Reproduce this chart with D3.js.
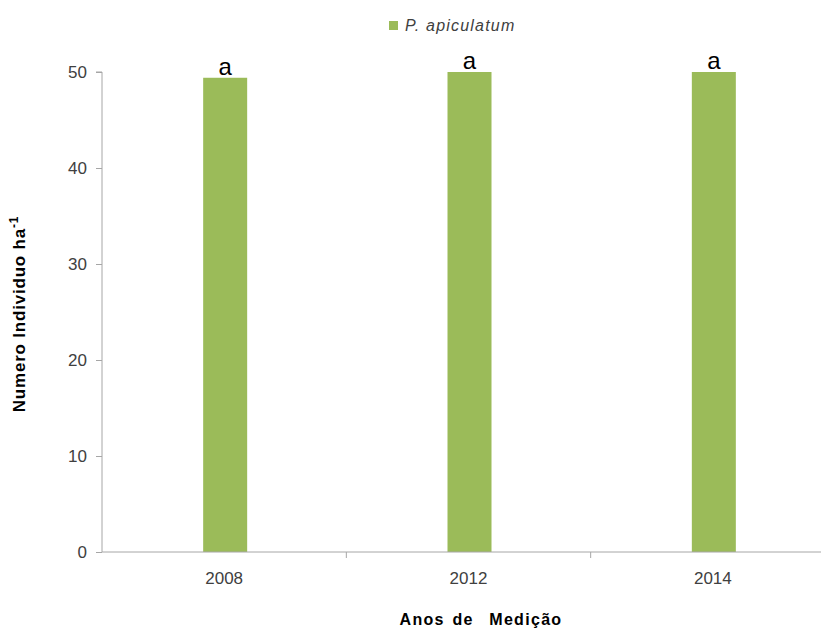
<!DOCTYPE html>
<html>
<head>
<meta charset="utf-8">
<script src="https://cdn.jsdelivr.net/npm/d3@7"></script>
<style>
  html, body { margin: 0; padding: 0; background: #fff; }
  svg { display: block; }
  text { font-family: "Liberation Sans", "DejaVu Sans", sans-serif; }
</style>
</head>
<body>
<svg id="chart" width="821" height="630"></svg>
<script>
// Individuals per hectare of P. apiculatum by measurement year
const years = ["2008", "2012", "2014"];
const density = [49.4, 50, 50];
const groupLetters = ["a", "a", "a"];
const yTicks = [0, 10, 20, 30, 40, 50];
const seriesName = "P. apiculatum";

const svg = d3.select("#chart");
const plotLeft = 102, plotRight = 835, plotTop = 72, plotBottom = 552;
const green = "#9bbb59";
const axisGrey = "#a6a6a6";

const x = d3.scaleBand().domain(years).range([plotLeft, plotRight]).paddingInner(0).paddingOuter(0);
const y = d3.scaleLinear().domain([0, 50]).range([plotBottom, plotTop]);
const barW = 44;

// bars
svg.append("g").selectAll("rect")
  .data(years)
  .join("rect")
  .attr("x", (d) => x(d) + x.bandwidth() / 2 - barW / 2 + 1)
  .attr("width", barW)
  .attr("y", (d, i) => y(density[i]))
  .attr("height", (d, i) => y(0) - y(density[i]))
  .attr("fill", green);

// significance letters above bars
svg.append("g").selectAll("text")
  .data(years)
  .join("text")
  .attr("x", (d) => x(d) + x.bandwidth() / 2 + 1)
  .attr("y", (d, i) => y(density[i]) - 3)
  .attr("text-anchor", "middle")
  .attr("font-size", 24)
  .attr("fill", "#000")
  .text((d, i) => groupLetters[i]);

// y axis
const yAxis = svg.append("g")
  .attr("transform", `translate(${plotLeft},0)`)
  .call(d3.axisLeft(y).tickValues(yTicks).tickSize(6).tickPadding(9));
yAxis.select(".domain").attr("stroke", axisGrey).attr("d", `M-6,${plotTop}H0V${plotBottom}`);
yAxis.selectAll(".tick line").attr("stroke", axisGrey);
yAxis.selectAll(".tick text")
  .attr("font-size", 17)
  .attr("fill", "#404040")
  .attr("font-family", "Liberation Sans, sans-serif");

// x axis with category separators
const xAxis = svg.append("g")
  .attr("transform", `translate(0,${plotBottom})`)
  .call(d3.axisBottom(x).tickSize(0).tickPadding(20));
xAxis.select(".domain").attr("stroke", axisGrey).attr("d", `M${plotLeft},0H${plotRight}`);
xAxis.selectAll(".tick text")
  .attr("font-size", 17)
  .attr("fill", "#404040")
  .attr("font-family", "Liberation Sans, sans-serif");
xAxis.append("g").selectAll("line")
  .data(years.slice(1))
  .join("line")
  .attr("x1", (d) => x(d)).attr("x2", (d) => x(d))
  .attr("y1", 0).attr("y2", 6)
  .attr("stroke", axisGrey);

// axis titles
svg.append("text")
  .attr("x", 481).attr("y", 625)
  .attr("text-anchor", "middle")
  .attr("font-weight", "bold")
  .attr("font-size", 16)
  .attr("letter-spacing", 1.3)
  .attr("word-spacing", 2)
  .attr("fill", "#000")
  .text("Anos de  Medição")
  .style("white-space", "pre");

const yTitle = svg.append("text")
  .attr("transform", "translate(25,314) rotate(-90)")
  .attr("text-anchor", "middle")
  .attr("font-weight", "bold")
  .attr("font-size", 17)
  .attr("letter-spacing", 0.8)
  .attr("fill", "#000");
yTitle.append("tspan").text("Numero Individuo ha");
yTitle.append("tspan").attr("dy", -7).attr("font-size", 12).text("-1");

// legend
const legend = svg.append("g").attr("transform", "translate(389,21)");
legend.append("rect").attr("width", 9).attr("height", 9).attr("fill", green);
legend.append("text")
  .attr("x", 16).attr("y", 10)
  .attr("font-style", "italic")
  .attr("font-size", 16)
  .attr("letter-spacing", 1.2)
  .attr("fill", "#404040")
  .text(seriesName);
</script>
</body>
</html>
